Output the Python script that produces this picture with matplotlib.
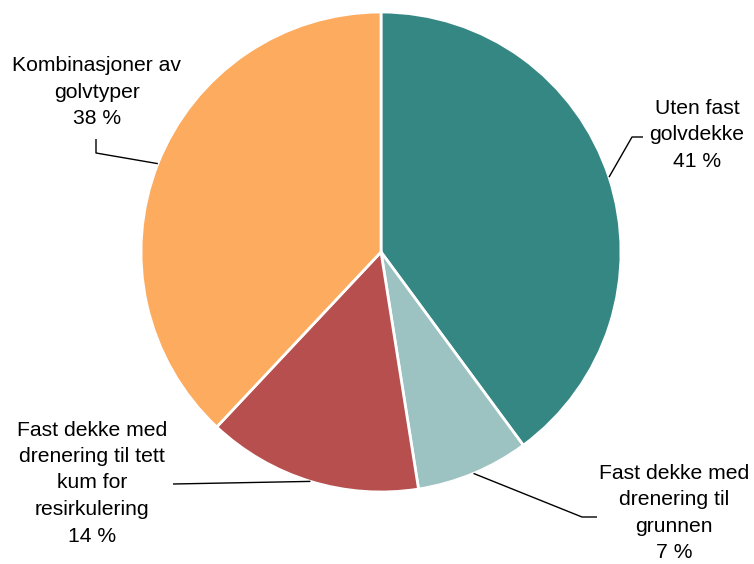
import numpy as np
import matplotlib
matplotlib.use("Agg")
import matplotlib.pyplot as plt

categories = ["Uten fast\ngolvdekke", "Fast dekke med\ndrenering til\ngrunnen",
              "Fast dekke med\ndrenering til tett\nkum for\nresirkulering",
              "Kombinasjoner av\ngolvtyper"]
values = [39.9, 7.6, 14.5, 38.0]
pct_labels = ["41 %", "7 %", "14 %", "38 %"]
colors = ["#358784", "#9CC2C2", "#B84F4F", "#FDAB5E"]

W, H = 754, 564
plt.rcParams['font.family'] = ['Liberation Sans', 'DejaVu Sans']
fig = plt.figure(figsize=(W / 100, H / 100), dpi=100)
ax = fig.add_axes([0, 0, 1, 1])

cx, cy, r = 381, H - 252, 240
wedges, _ = ax.pie(values, colors=colors, startangle=90, counterclock=False,
                   center=(cx, cy), radius=r,
                   wedgeprops=dict(edgecolor="white", linewidth=2))
ax.set_xlim(0, W)
ax.set_ylim(0, H)
ax.set_aspect("equal")
ax.axis("off")

# label layout (pixel coords, y from top): elbow points, label centre
layout = [
    dict(path=[(632, 137), (643, 137)], text=(697, 135)),
    dict(path=[(582, 517), (597, 517)], text=(674, 513)),
    dict(path=[(173, 484)], text=(92, 483)),
    dict(path=[(96, 153), (96, 139)], text=(97, 92)),
]

for w, lab, pct, lay in zip(wedges, categories, pct_labels, layout):
    mid = np.deg2rad((w.theta1 + w.theta2) / 2)
    sx, sy = cx + r * np.cos(mid), cy + r * np.sin(mid)
    xs = [sx] + [p[0] for p in lay["path"]]
    ys = [sy] + [H - p[1] for p in lay["path"]]
    ax.plot(xs, ys, color="black", lw=1, solid_capstyle="butt")
    tx, ty = lay["text"]
    ax.text(tx, H - ty, lab + "\n" + pct, ha="center", va="center",
            fontsize=15.2, color="black", linespacing=1.5, multialignment="center")

fig.savefig("out.png", dpi=100)
